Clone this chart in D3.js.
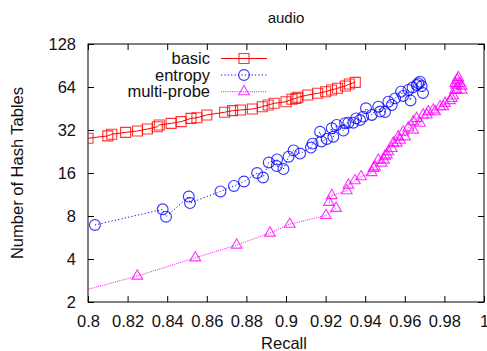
<!DOCTYPE html>
<html>
<head>
<meta charset="utf-8">
<script src="https://cdn.jsdelivr.net/npm/d3@7"></script>
<style>
  body { margin: 0; background: #fff; }
  svg { display: block; font-family: "Liberation Sans", Arial, sans-serif; }
</style>
</head>
<body>
<svg id="chart" width="487" height="351"></svg>
<script>
// values
const title = "audio";
const xLabel = "Recall";
const yLabel = "Number of Hash Tables";
const xTicks = [0.8, 0.82, 0.84, 0.86, 0.88, 0.9, 0.92, 0.94, 0.96, 0.98, 1];
const yTicks = [2, 4, 8, 16, 32, 64, 128];
const seriesNames = ["basic", "entropy", "multi-probe"];

const basicRecall = [0.800,0.810,0.812,0.819,0.825,0.830,0.835,0.836,0.842,0.847,0.852,0.855,0.860,0.869,0.873,0.877,0.883,0.888,0.891,0.894,0.900,0.903,0.905,0.906,0.911,0.916,0.920,0.923,0.926,0.930,0.932,0.935];
const basicTables = [28.0,29.1,29.9,30.8,31.5,32.5,33.7,34.7,35.6,36.6,38.6,39.0,40.8,42.6,43.7,44.2,44.9,46.6,47.9,49.2,50.5,52.5,53.3,54.2,56.2,57.8,59.3,61.0,62.7,65.0,67.2,69.0];

const entropyRecall = [0.8035,0.8377,0.8394,0.8509,0.8515,0.8669,0.8737,0.8788,0.8854,0.8884,0.8913,0.8955,0.8953,0.8987,0.9013,0.9038,0.9071,0.9126,0.9134,0.9172,0.9179,0.9206,0.9231,0.9239,0.9256,0.9290,0.9298,0.9315,0.9340,0.9354,0.9374,0.9390,0.9404,0.9433,0.9466,0.9475,0.9500,0.9517,0.9534,0.9551,0.9581,0.9592,0.9618,0.9629,0.9639,0.9660,0.9668,0.9677,0.9685,0.9692];
const entropyTables = [6.92,8.91,7.91,10.95,9.86,11.88,12.98,13.95,16.0,14.88,18.95,19.9,17.9,17.06,20.8,23.0,21.9,24.1,25.7,31.1,26.6,27.7,32.9,28.7,34.7,31.7,35.7,36.0,36.0,38.6,37.6,39.7,45.4,40.8,46.6,43.1,42.8,50.5,47.9,53.3,59.3,55.4,61.0,51.5,63.5,66.1,67.9,69.7,65.0,58.1];

const multiRecall = [0.790,0.8249,0.8542,0.8751,0.8919,0.9019,0.9202,0.9253,0.9217,0.9231,0.9307,0.9315,0.9348,0.9379,0.9433,0.9442,0.9449,0.9466,0.9483,0.9495,0.9500,0.9509,0.9517,0.9534,0.9542,0.9559,0.9567,0.9576,0.9592,0.9601,0.9618,0.9643,0.9643,0.9660,0.9677,0.9693,0.9711,0.9719,0.9744,0.9753,0.9778,0.9794,0.9803,0.9828,0.9837,0.9845,0.9854,0.9862,0.9859,0.9854,0.9865,0.9870,0.9879,0.9887,0.9887];
const multiTables = [2.25,3.04,4.08,5.01,6.08,7.01,8.07,9.06,9.98,11.13,12.03,13.19,14.13,15.07,16.13,17.26,17.7,19.73,18.8,19.73,21.05,21.4,22.55,23.8,25.95,25.95,28.7,27.2,31.0,28.7,33.1,36.6,32.0,38.6,35.7,40.8,40.8,43.0,44.2,43.0,46.6,46.6,49.2,51.5,53.3,55.4,61.0,61.0,66.1,67.9,71.6,74.6,67.9,65.0,61.0];

const plotLeft = 88, plotRight = 484, plotTop = 44, plotBottom = 302;
const fontSize = 16.5;

const svg = d3.select("#chart");

const x = d3.scaleLinear().domain([0.8, 1]).range([plotLeft, plotRight]);
const y = d3.scaleLog().base(2).domain([2, 128]).range([plotBottom, plotTop]);

const series = [
  {name: seriesNames[0], xs: basicRecall, ys: basicTables, color: "#ff0000", dash: null, shape: d3.symbolSquare, size: 100},
  {name: seriesNames[1], xs: entropyRecall, ys: entropyTables, color: "#0000ff", dash: "1.2,2.2", shape: d3.symbolCircle, size: 92},
  {name: seriesNames[2], xs: multiRecall, ys: multiTables, color: "#ff00ff", dash: "1,1.2", shape: d3.symbolTriangle, size: 50}
];

svg.append("clipPath").attr("id", "plotclip")
  .append("rect")
  .attr("x", plotLeft).attr("y", plotTop)
  .attr("width", plotRight - plotLeft).attr("height", plotBottom - plotTop);

// axes, ticks inward on all four sides
function styleAxis(g) {
  g.select(".domain").remove();
  g.selectAll(".tick line").attr("stroke", "#000");
  g.selectAll(".tick text")
    .attr("fill", "#111")
    .style("font-size", fontSize + "px")
    .style("font-family", "'Liberation Sans', Arial, sans-serif");
}

svg.append("g")
  .attr("transform", "translate(0," + plotBottom + ")")
  .call(d3.axisBottom(x).tickValues(xTicks).tickSizeInner(-6).tickSizeOuter(0).tickPadding(13)
    .tickFormat(d => d === 1 ? "1" : String(d)))
  .call(styleAxis);

svg.append("g")
  .attr("transform", "translate(0," + plotTop + ")")
  .call(d3.axisTop(x).tickValues(xTicks).tickSizeInner(-6).tickSizeOuter(0).tickFormat(""))
  .call(styleAxis);

svg.append("g")
  .attr("transform", "translate(" + plotLeft + ",0)")
  .call(d3.axisLeft(y).tickValues(yTicks).tickSizeInner(-6).tickSizeOuter(0).tickPadding(12)
    .tickFormat(d3.format("d")))
  .call(styleAxis);

svg.append("g")
  .attr("transform", "translate(" + plotRight + ",0)")
  .call(d3.axisRight(y).tickValues(yTicks).tickSizeInner(-6).tickSizeOuter(0).tickFormat(""))
  .call(styleAxis);

svg.append("rect")
  .attr("x", plotLeft).attr("y", plotTop)
  .attr("width", plotRight - plotLeft).attr("height", plotBottom - plotTop)
  .attr("fill", "none").attr("stroke", "#000").attr("stroke-width", 1);

// data
const plot = svg.append("g").attr("clip-path", "url(#plotclip)");

series.forEach(s => {
  const pts = s.xs.map((v, i) => [v, s.ys[i]]);
  plot.append("path")
    .datum(pts)
    .attr("fill", "none")
    .attr("stroke", s.color)
    .attr("stroke-width", 1)
    .attr("stroke-dasharray", s.dash)
    .attr("d", d3.line().x(d => x(d[0])).y(d => y(d[1])));

  plot.selectAll(null)
    .data(pts)
    .enter().append("path")
    .attr("transform", d => "translate(" + x(d[0]) + "," + y(d[1]) + ")")
    .attr("d", d3.symbol().type(s.shape).size(s.size))
    .attr("fill", "none")
    .attr("stroke", s.color)
    .attr("stroke-opacity", 0.8)
    .attr("stroke-width", 1.1);
});

// legend
const legend = svg.append("g");
const legendY = [58.5, 75, 91.7];
series.forEach((s, i) => {
  const ly = legendY[i];
  legend.append("text")
    .attr("x", 210).attr("y", ly + 5.5)
    .attr("text-anchor", "end")
    .attr("fill", "#111")
    .style("font-size", fontSize + "px")
    .text(s.name);
  legend.append("line")
    .attr("x1", 221).attr("x2", 267)
    .attr("y1", ly).attr("y2", ly)
    .attr("stroke", s.color)
    .attr("stroke-width", 1)
    .attr("stroke-dasharray", s.dash);
  legend.append("path")
    .attr("transform", "translate(244," + ly + ")")
    .attr("d", d3.symbol().type(s.shape).size(s.size))
    .attr("fill", "none")
    .attr("stroke", s.color)
    .attr("stroke-opacity", 0.8)
    .attr("stroke-width", 1.1);
});

// titles
svg.append("text")
  .attr("x", (plotLeft + plotRight) / 2).attr("y", 23)
  .attr("text-anchor", "middle")
  .attr("fill", "#111")
  .style("font-size", (fontSize - 1.5) + "px")
  .text(title);

svg.append("text")
  .attr("x", (plotLeft + plotRight) / 2 - 2).attr("y", 349)
  .attr("text-anchor", "middle")
  .attr("fill", "#111")
  .style("font-size", fontSize + "px")
  .text(xLabel);

svg.append("text")
  .attr("transform", "translate(23," + ((plotTop + plotBottom) / 2) + ") rotate(-90)")
  .attr("text-anchor", "middle")
  .attr("fill", "#111")
  .style("font-size", fontSize + "px")
  .text(yLabel);
</script>
</body>
</html>
